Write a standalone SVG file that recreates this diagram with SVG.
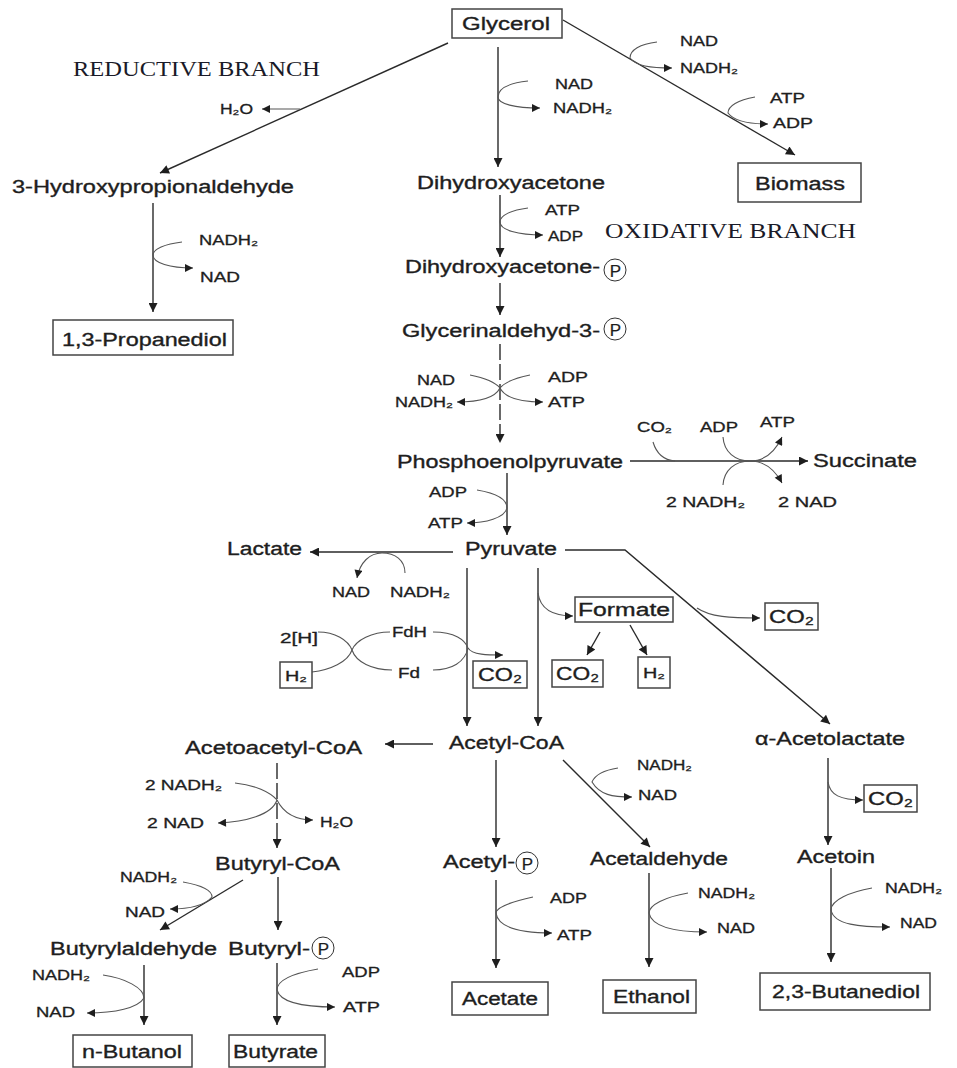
<svg xmlns="http://www.w3.org/2000/svg" width="957" height="1068" viewBox="0 0 957 1068">
<style>
text{font-family:"Liberation Sans","DejaVu Sans",Arial,sans-serif;fill:#1e1e1e}
.m{font-size:18px;stroke:#1e1e1e;stroke-width:0.35}
.s{font-size:14px;stroke:#1e1e1e;stroke-width:0.3}
.p{font-size:17px;stroke:#1e1e1e;stroke-width:0.2;text-anchor:middle}
.t{font-family:"Liberation Serif","Times New Roman",serif;font-size:22px;fill:#1a1a28}
.box{fill:#fff;stroke:#444;stroke-width:1.5}
.ln{fill:none;stroke:#2a2a2a;stroke-width:1.4;marker-end:url(#a)}
.dl{fill:none;stroke:#2a2a2a;stroke-width:1.4;stroke-dasharray:16 4;marker-end:url(#a)}
.cv{fill:none;stroke:#555;stroke-width:1.1}
.ca{fill:none;stroke:#555;stroke-width:1.1;marker-end:url(#b)}
.pc{fill:none;stroke:#333;stroke-width:1}
</style>
<defs>
<marker id="a" viewBox="0 0 10 10" refX="10" refY="5" markerWidth="11" markerHeight="9" markerUnits="userSpaceOnUse" orient="auto"><path d="M0,0 L10,5 L0,10 z" fill="#1e1e1e"/></marker>
<marker id="b" viewBox="0 0 10 10" refX="10" refY="5" markerWidth="10" markerHeight="8" markerUnits="userSpaceOnUse" orient="auto"><path d="M0,0 L10,5 L0,10 z" fill="#1e1e1e"/></marker>
</defs>
<rect width="957" height="1068" fill="#fff"/>

<g id="connectors">
<path class="ln" d="M448,43 L160,173"/>
<path class="ln" d="M498,47 L498,167"/>
<path class="ln" d="M563,20 L795,155"/>
<path class="ca" d="M300,109 L262,109"/>
<path class="ln" d="M153,203 L153,312"/>
<path class="ln" d="M500,195 L500,257"/>
<path class="ln" d="M500,283 L500,315"/>
<path class="dl" d="M500,344 L500,443"/>
<path class="ln" d="M630,461 L808,461"/>
<path class="ln" d="M507,473 L507,535"/>
<path class="ln" d="M453,552 L310,552"/>
<path class="ln" d="M565,550 L625,550 L830,724"/>
<path class="ln" d="M467,568 L467,726"/>
<path class="ln" d="M538,568 L538,726"/>
<path class="ln" d="M600,632 L587,655"/>
<path class="ln" d="M630,625 L647,655"/>
<path class="ln" d="M433,744 L385,744"/>
<path class="dl" d="M277,763 L277,848"/>
<path class="ln" d="M278,877 L278,930"/>
<path class="ln" d="M243,880 L160,930"/>
<path class="ln" d="M144,965 L144,1025"/>
<path class="ln" d="M277,963 L277,1025"/>
<path class="ln" d="M496,760 L496,847"/>
<path class="ln" d="M496,880 L496,968"/>
<path class="ln" d="M563,760 L650,847"/>
<path class="ln" d="M649,873 L649,967"/>
<path class="ln" d="M828,758 L828,845"/>
<path class="ln" d="M831,868 L831,962"/>
<path class="ca" d="M528,81 C510,83 498,88 498,97 C498,104 515,108 540,108"/>
<path class="ca" d="M657,42 C640,44 630,50 630,58 C636,66 650,68 672,68"/>
<path class="ca" d="M755,97 C738,100 728,106 728,113 C734,121 748,124 768,124"/>
<path class="ca" d="M182,242 C165,244 153,249 153,255 C153,263 170,268 193,268"/>
<path class="ca" d="M528,208 C512,210 500,215 500,222 C500,230 518,235 543,235"/>
<path class="ca" d="M470,375 C485,378 495,382 500,388 C495,398 480,402 457,402"/>
<path class="ca" d="M530,375 C515,378 505,382 500,388 C505,398 520,402 543,402"/>
<path class="ca" d="M477,490 C495,493 507,498 507,508 C505,518 485,523 467,523"/>
<path class="cv" d="M653,442 C656,452 662,460 675,461"/>
<path class="ca" d="M723,437 C724,452 735,461 750,461 C765,461 775,452 782,437"/>
<path class="ca" d="M723,485 C724,470 735,461 750,461 C765,461 775,470 782,483"/>
<path class="ca" d="M405,573 C405,560 395,553 382,553 C370,553 360,562 357,578"/>
<path class="cv" d="M318,632 C335,632 348,640 352,650 C348,662 330,670 312,672"/>
<path class="cv" d="M390,632 C372,632 356,640 352,650 C356,662 372,670 392,670"/>
<path class="ca" d="M433,632 C455,632 465,640 468,648 C472,655 488,655 503,655"/>
<path class="cv" d="M433,670 C452,670 465,662 468,648"/>
<path class="ca" d="M538,593 C540,608 552,616 573,616"/>
<path class="ca" d="M697,608 C710,617 730,618 760,618"/>
<path class="ca" d="M235,783 C255,785 270,792 277,800 C283,812 295,820 313,820"/>
<path class="ca" d="M277,800 C272,815 245,822 218,823"/>
<path class="ca" d="M183,882 C200,885 212,890 212,897 C205,905 190,909 170,909"/>
<path class="ca" d="M103,975 C125,978 144,988 144,998 C138,1008 115,1013 87,1013"/>
<path class="ca" d="M318,969 C295,973 277,980 277,990 C280,1002 300,1007 335,1007"/>
<path class="ca" d="M618,768 C605,770 595,775 592,782 C600,795 612,797 632,797"/>
<path class="ca" d="M533,897 C510,902 496,908 496,913 C498,928 520,933 552,933"/>
<path class="ca" d="M688,893 C665,897 649,905 649,913 C652,928 680,932 707,932"/>
<path class="ca" d="M828,782 C830,795 840,800 863,800"/>
<path class="ca" d="M872,888 C850,892 831,900 831,910 C834,925 860,927 890,927"/>
</g>

<g id="labels">
<text class="t" x="73" y="76" textLength="247" lengthAdjust="spacingAndGlyphs">REDUCTIVE BRANCH</text>
<text class="t" x="605" y="238" textLength="251" lengthAdjust="spacingAndGlyphs">OXIDATIVE BRANCH</text>
</g>

<g id="glycerol"><rect class="box" x="452" y="9" width="110" height="29"/><text class="m" x="462" y="30" textLength="88" lengthAdjust="spacingAndGlyphs">Glycerol</text></g>
<g id="h2o-top"><text class="s" x="220" y="114" textLength="33" lengthAdjust="spacingAndGlyphs">H₂O</text></g>
<g id="c-gly-dha"><text class="s" x="555" y="89" textLength="38" lengthAdjust="spacingAndGlyphs">NAD</text><text class="s" x="553" y="113" textLength="59" lengthAdjust="spacingAndGlyphs">NADH₂</text></g>
<g id="c-bio1"><text class="s" x="680" y="46" textLength="38" lengthAdjust="spacingAndGlyphs">NAD</text><text class="s" x="680" y="73" textLength="58" lengthAdjust="spacingAndGlyphs">NADH₂</text></g>
<g id="c-bio2"><text class="s" x="770" y="103" textLength="35" lengthAdjust="spacingAndGlyphs">ATP</text><text class="s" x="773" y="128" textLength="40" lengthAdjust="spacingAndGlyphs">ADP</text></g>
<g id="biomass"><rect class="box" x="738" y="163" width="123" height="39"/><text class="m" x="755" y="190" textLength="90" lengthAdjust="spacingAndGlyphs">Biomass</text></g>
<g id="hpa"><text class="m" x="12" y="193" textLength="282" lengthAdjust="spacingAndGlyphs">3-Hydroxypropionaldehyde</text></g>
<g id="c-hpa"><text class="s" x="199" y="245" textLength="59" lengthAdjust="spacingAndGlyphs">NADH₂</text><text class="s" x="200" y="282" textLength="40" lengthAdjust="spacingAndGlyphs">NAD</text></g>
<g id="pdo"><rect class="box" x="53" y="320" width="180" height="35"/><text class="m" x="62" y="346" textLength="165" lengthAdjust="spacingAndGlyphs">1,3-Propanediol</text></g>
<g id="dha"><text class="m" x="417" y="189" textLength="188" lengthAdjust="spacingAndGlyphs">Dihydroxyacetone</text></g>
<g id="c-dha"><text class="s" x="545" y="215" textLength="35" lengthAdjust="spacingAndGlyphs">ATP</text><text class="s" x="548" y="241" textLength="35" lengthAdjust="spacingAndGlyphs">ADP</text></g>
<g id="dhap"><text class="m" x="405" y="273" textLength="195" lengthAdjust="spacingAndGlyphs">Dihydroxyacetone-</text><circle class="pc" cx="615" cy="270" r="11"/><text class="p" x="615.5" y="276.5">P</text></g>
<g id="g3p"><text class="m" x="402" y="337" textLength="198" lengthAdjust="spacingAndGlyphs">Glycerinaldehyd-3-</text><circle class="pc" cx="615" cy="329" r="11"/><text class="p" x="615.5" y="335.5">P</text></g>
<g id="c-g3p"><text class="s" x="417" y="385" textLength="38" lengthAdjust="spacingAndGlyphs">NAD</text><text class="s" x="395" y="407" textLength="58" lengthAdjust="spacingAndGlyphs">NADH₂</text><text class="s" x="548" y="382" textLength="40" lengthAdjust="spacingAndGlyphs">ADP</text><text class="s" x="548" y="407" textLength="37" lengthAdjust="spacingAndGlyphs">ATP</text></g>
<g id="pep"><text class="m" x="397" y="468" textLength="226" lengthAdjust="spacingAndGlyphs">Phosphoenolpyruvate</text></g>
<g id="c-succ"><text class="s" x="637" y="432" textLength="35" lengthAdjust="spacingAndGlyphs">CO₂</text><text class="s" x="700" y="432" textLength="38" lengthAdjust="spacingAndGlyphs">ADP</text><text class="s" x="760" y="427" textLength="35" lengthAdjust="spacingAndGlyphs">ATP</text><text class="s" x="666" y="507" textLength="79" lengthAdjust="spacingAndGlyphs">2 NADH₂</text><text class="s" x="778" y="507" textLength="59" lengthAdjust="spacingAndGlyphs">2 NAD</text></g>
<g id="succinate"><text class="m" x="813" y="467" textLength="104" lengthAdjust="spacingAndGlyphs">Succinate</text></g>
<g id="c-pep"><text class="s" x="429" y="497" textLength="38" lengthAdjust="spacingAndGlyphs">ADP</text><text class="s" x="428" y="528" textLength="35" lengthAdjust="spacingAndGlyphs">ATP</text></g>
<g id="pyruvate"><text class="m" x="465" y="555" textLength="92" lengthAdjust="spacingAndGlyphs">Pyruvate</text></g>
<g id="lactate"><text class="m" x="227" y="555" textLength="75" lengthAdjust="spacingAndGlyphs">Lactate</text></g>
<g id="c-lac"><text class="s" x="332" y="597" textLength="38" lengthAdjust="spacingAndGlyphs">NAD</text><text class="s" x="390" y="597" textLength="60" lengthAdjust="spacingAndGlyphs">NADH₂</text></g>
<g id="fd"><text class="s" x="280" y="643" textLength="38" lengthAdjust="spacingAndGlyphs">2[H]</text><text class="s" x="392" y="637" textLength="35" lengthAdjust="spacingAndGlyphs">FdH</text><text class="s" x="398" y="678" textLength="22" lengthAdjust="spacingAndGlyphs">Fd</text></g>
<g id="h2-left"><rect class="box" x="280" y="662" width="32" height="26"/><text class="s" x="285" y="681" textLength="22" lengthAdjust="spacingAndGlyphs">H₂</text></g>
<g id="co2-a"><rect class="box" x="473" y="661" width="54" height="27"/><text class="m" x="478" y="681" textLength="44" lengthAdjust="spacingAndGlyphs">CO₂</text></g>
<g id="formate"><rect class="box" x="575" y="597" width="98" height="25"/><text class="m" x="578" y="616" textLength="92" lengthAdjust="spacingAndGlyphs">Formate</text></g>
<g id="co2-b"><rect class="box" x="552" y="660" width="51" height="27"/><text class="m" x="556" y="680" textLength="43" lengthAdjust="spacingAndGlyphs">CO₂</text></g>
<g id="h2-right"><rect class="box" x="638" y="657" width="32" height="31"/><text class="s" x="643" y="678" textLength="22" lengthAdjust="spacingAndGlyphs">H₂</text></g>
<g id="co2-c"><rect class="box" x="765" y="603" width="53" height="27"/><text class="m" x="769" y="623" textLength="45" lengthAdjust="spacingAndGlyphs">CO₂</text></g>
<g id="acetylcoa"><text class="m" x="449" y="749" textLength="115" lengthAdjust="spacingAndGlyphs">Acetyl-CoA</text></g>
<g id="acetoacetylcoa"><text class="m" x="185" y="754" textLength="177" lengthAdjust="spacingAndGlyphs">Acetoacetyl-CoA</text></g>
<g id="acetolactate"><text class="m" x="755" y="745" textLength="150" lengthAdjust="spacingAndGlyphs">α-Acetolactate</text></g>
<g id="c-acac"><text class="s" x="145" y="790" textLength="77" lengthAdjust="spacingAndGlyphs">2 NADH₂</text><text class="s" x="147" y="828" textLength="57" lengthAdjust="spacingAndGlyphs">2 NAD</text><text class="s" x="320" y="827" textLength="33" lengthAdjust="spacingAndGlyphs">H₂O</text></g>
<g id="c-acald"><text class="s" x="637" y="770" textLength="55" lengthAdjust="spacingAndGlyphs">NADH₂</text><text class="s" x="638" y="800" textLength="39" lengthAdjust="spacingAndGlyphs">NAD</text></g>
<g id="co2-d"><rect class="box" x="864" y="785" width="53" height="27"/><text class="m" x="868" y="805" textLength="45" lengthAdjust="spacingAndGlyphs">CO₂</text></g>
<g id="butyrylcoa"><text class="m" x="215" y="870" textLength="125" lengthAdjust="spacingAndGlyphs">Butyryl-CoA</text></g>
<g id="c-but"><text class="s" x="120" y="882" textLength="57" lengthAdjust="spacingAndGlyphs">NADH₂</text><text class="s" x="125" y="917" textLength="40" lengthAdjust="spacingAndGlyphs">NAD</text></g>
<g id="acetylp"><text class="m" x="443" y="868" textLength="72" lengthAdjust="spacingAndGlyphs">Acetyl-</text><circle class="pc" cx="527" cy="863" r="11"/><text class="p" x="527.5" y="869.5">P</text></g>
<g id="acetaldehyde"><text class="m" x="590" y="865" textLength="138" lengthAdjust="spacingAndGlyphs">Acetaldehyde</text></g>
<g id="acetoin"><text class="m" x="797" y="863" textLength="78" lengthAdjust="spacingAndGlyphs">Acetoin</text></g>
<g id="butyraldehyde"><text class="m" x="50" y="955" textLength="167" lengthAdjust="spacingAndGlyphs">Butyrylaldehyde</text></g>
<g id="butyrylp"><text class="m" x="228" y="955" textLength="82" lengthAdjust="spacingAndGlyphs">Butyryl-</text><circle class="pc" cx="323" cy="948" r="11"/><text class="p" x="323.5" y="954.5">P</text></g>
<g id="c-buoh"><text class="s" x="32" y="980" textLength="58" lengthAdjust="spacingAndGlyphs">NADH₂</text><text class="s" x="36" y="1017" textLength="39" lengthAdjust="spacingAndGlyphs">NAD</text></g>
<g id="c-butyrate"><text class="s" x="342" y="977" textLength="38" lengthAdjust="spacingAndGlyphs">ADP</text><text class="s" x="343" y="1012" textLength="37" lengthAdjust="spacingAndGlyphs">ATP</text></g>
<g id="c-acetate"><text class="s" x="550" y="903" textLength="37" lengthAdjust="spacingAndGlyphs">ADP</text><text class="s" x="557" y="940" textLength="35" lengthAdjust="spacingAndGlyphs">ATP</text></g>
<g id="c-ethanol"><text class="s" x="698" y="898" textLength="57" lengthAdjust="spacingAndGlyphs">NADH₂</text><text class="s" x="717" y="933" textLength="38" lengthAdjust="spacingAndGlyphs">NAD</text></g>
<g id="c-bdo"><text class="s" x="885" y="893" textLength="57" lengthAdjust="spacingAndGlyphs">NADH₂</text><text class="s" x="900" y="928" textLength="37" lengthAdjust="spacingAndGlyphs">NAD</text></g>
<g id="butanol"><rect class="box" x="73" y="1035" width="119" height="32"/><text class="m" x="82" y="1058" textLength="100" lengthAdjust="spacingAndGlyphs">n-Butanol</text></g>
<g id="butyrate"><rect class="box" x="229" y="1035" width="96" height="32"/><text class="m" x="233" y="1058" textLength="85" lengthAdjust="spacingAndGlyphs">Butyrate</text></g>
<g id="acetate"><rect class="box" x="452" y="982" width="96" height="33"/><text class="m" x="462" y="1005" textLength="76" lengthAdjust="spacingAndGlyphs">Acetate</text></g>
<g id="ethanol"><rect class="box" x="603" y="980" width="93" height="33"/><text class="m" x="613" y="1003" textLength="77" lengthAdjust="spacingAndGlyphs">Ethanol</text></g>
<g id="butanediol"><rect class="box" x="760" y="973" width="170" height="37"/><text class="m" x="772" y="998" textLength="148" lengthAdjust="spacingAndGlyphs">2,3-Butanediol</text></g>
</svg>
